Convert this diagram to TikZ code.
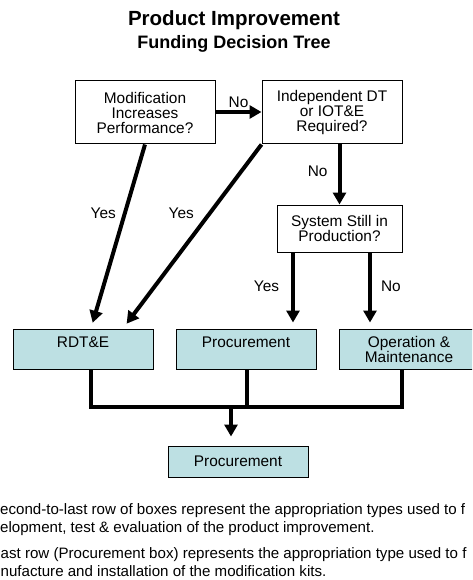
\documentclass[tikz,border=0pt]{standalone}
\usepackage{fontspec}
\setmainfont{Liberation Sans}
\usetikzlibrary{arrows.meta}
\definecolor{boxblue}{RGB}{189,224,227}
\tikzset{
  qbox/.style={draw, line width=1pt, minimum width=140pt, align=center, inner sep=0pt,
    font=\fontsize{15.4}{15}\selectfont},
  abox/.style={qbox, fill=boxblue, minimum height=40pt},
  topline/.style={text height=18.5pt, text depth=21.5pt},
  flow/.style={line width=4pt, -{Triangle[length=12pt,width=13pt]}},
  joinline/.style={line width=3.5pt},
  lbl/.style={inner sep=0pt, font=\fontsize{15.4}{15}\selectfont},
  note/.style={anchor=base west, inner sep=0pt, font=\fontsize{15.1}{15}\selectfont},
}

\begin{document}
\begin{tikzpicture}[x=1pt, y=-1pt]
		%%%%% FRAME %%%%%
		\useasboundingbox (0,0) rectangle (472,580);
		\clip (0,0) rectangle (472,580);
		
		%%%%% TITLE %%%%%
		\node[font=\fontsize{20.5}{24}\selectfont\bfseries] (title) at (234,20) {Product Improvement};
		\node[font=\fontsize{18}{20}\selectfont\bfseries] (subtitle) at (234,44) {Funding Decision Tree};
		
		%%%%% QUESTIONS %%%%%
		\node[qbox, minimum height=63pt] (mod) at (145,112.5) {Modification\\Increases\\Performance?};
		\node[qbox, minimum height=63pt] (indep) at (332,112.5) {Independent DT\\or IOT\&E\\Required?};
		\node[qbox, minimum width=125pt, minimum height=47pt] (prod) at (339.5,228.5) {System Still in\\Production?};
		
		%%%%% APPROPRIATIONS %%%%%
		\node[abox, topline] (rdte) at (83,349) {RDT\&E};
		\node[abox, topline] (proc) at (246,349) {Procurement};
		\node[abox] (om) at (409,349) {Operation \&\\Maintenance};
		\node[qbox, fill=boxblue, minimum height=31pt] (kits) at (238,461.5) {Procurement};
		
		%%%%% DECISIONS %%%%%
		\draw[flow] (mod.east |- 0,112) -- (indep.west |- 0,112) node[lbl, midway, above=2pt] {No};
		\draw[flow] (prod.north |- indep.south) -- (prod.north) node[lbl, pos=0.45, left=10pt] {No};
		\draw[flow, shorten >=6pt] (mod.south) -- ([xshift=8pt]rdte.north) node[lbl, pos=0.373, left=7pt] {Yes};
		\draw[flow, shorten >=6pt] (indep.south west) -- ([xshift=40pt]rdte.north) node[lbl, pos=0.373, left=14pt] {Yes};
		\draw[flow, shorten >=6pt] ([xshift=-46.5pt]prod.south) -- ([xshift=-46.5pt]prod.south |- proc.north) node[lbl, pos=0.44, left=12pt] {Yes};
		\draw[flow, shorten >=6pt] ([xshift=30.5pt]prod.south) -- ([xshift=30.5pt]prod.south |- om.north) node[lbl, pos=0.44, right=9pt] {No};
		
		%%%%% MERGE %%%%%
		\coordinate (busL) at (91,407);
		\coordinate (busR) at (402,407);
		\draw[joinline] ([xshift=8pt]rdte.south) -- (busL) -- (busR) -- ([xshift=-7pt]om.south);
		\draw[joinline] ([xshift=1pt]proc.south) -- ([xshift=1pt]proc.south |- busL);
		\draw[flow, shorten >=9pt] ([xshift=-7pt]kits.north |- busL) -- ([xshift=-7pt]kits.north);
		
		%%%%% NOTES %%%%%
		\node[note] (n1) at (0,514) {econd-to-last row of boxes represent the appropriation types used to f};
		\node[note] (n2) at (0,532) {elopment, test \& evaluation of the product improvement.};
		\node[note] (n3) at (0.5,558) {ast row (Procurement box) represents the appropriation type used to f};
		\node[note] (n4) at (0.5,576) {nufacture and installation of the modification kits.};
	\end{tikzpicture}
\end{document}
